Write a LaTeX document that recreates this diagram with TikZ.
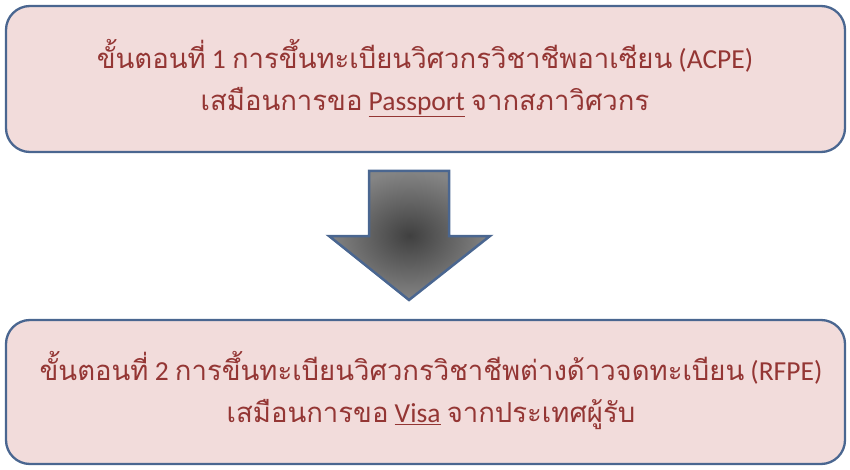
\documentclass[tikz,border=0pt]{standalone}
\usepackage{fontspec}
\setmainfont{Carlito}
\newfontfamily\thai[Script=Thai]{Loma}
\definecolor{boxfill}{HTML}{F2DCDB}
\definecolor{boxline}{HTML}{4A6690}
\definecolor{txt}{HTML}{943634}
\tikzset{
  stepbox/.style={draw=boxline, line width=2.3pt, fill=boxfill, rounded corners=24pt},
  steptext/.style={text=txt, align=center, font=\fontsize{27.5}{42}\selectfont}
}
\begin{document}
\begin{tikzpicture}[x=1pt,y=-1pt]
\useasboundingbox (0,0) rectangle (850,470);
\draw[stepbox] (6,6) rectangle (845,152);
\node[steptext] (t1) at (425,78) {{\thai ขั้นตอนที่} 1 {\thai การขึ้นทะเบียนวิศวกรวิชาชีพอาเซียน} (ACPE)\\{\thai เสมือนการขอ} \underline{Passport} {\thai จากสภาวิศวกร}};
\draw[stepbox] (6,320) rectangle (845,464);
\node[steptext] (t2) at (431,391) {{\thai ขั้นตอนที่} 2 {\thai การขึ้นทะเบียนวิศวกรวิชาชีพต่างด้าวจดทะเบียน} (RFPE)\\{\thai เสมือนการขอ} \underline{Visa} {\thai จากประเทศผู้รับ}};
\shade[inner color=black!75, outer color=black!48, draw=boxline, line width=2.5pt, line join=miter]
  (369,171) -- (449,171) -- (449,236) -- (490,236) -- (409,300) -- (329,236) -- (369,236) -- cycle;
\end{tikzpicture}
\end{document}
